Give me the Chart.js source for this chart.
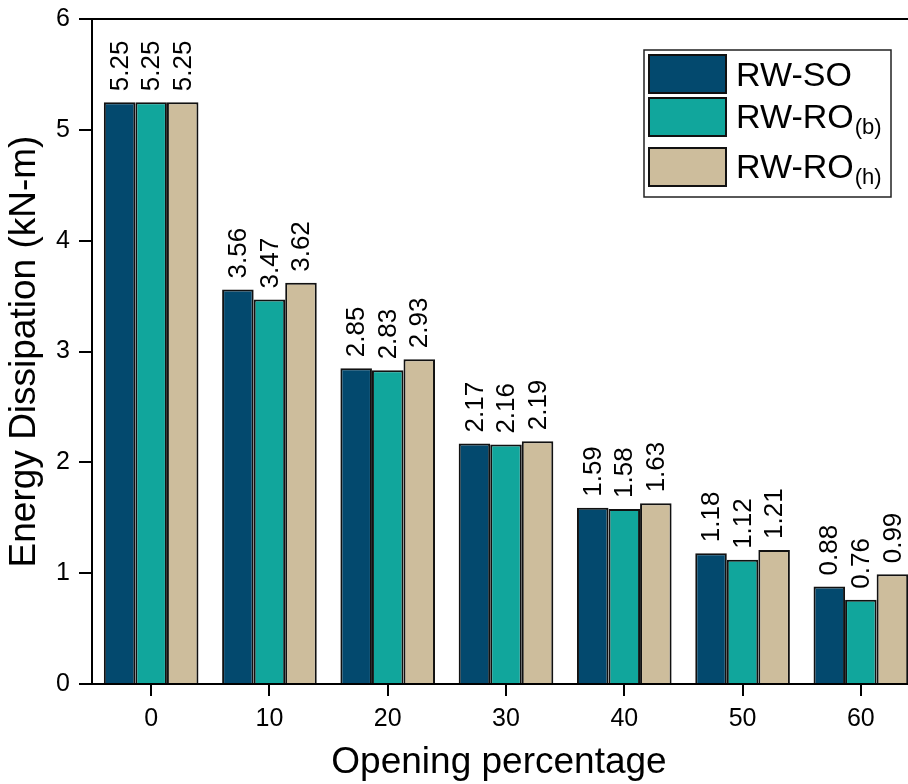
<!DOCTYPE html>
<html>
<head>
<meta charset="utf-8">
<script src="https://cdn.jsdelivr.net/npm/chart.js@4.4.0/dist/chart.umd.min.js"></script>
<style>
  html, body { margin: 0; padding: 0; background: #fff; overflow: hidden; }
  #wrap { width: 908px; height: 784px; overflow: hidden; position: relative; }
  canvas { display: block; }
</style>
</head>
<body>
<div id="wrap"><canvas id="c" width="930" height="784" style="width:930px;height:784px"></canvas></div>
<script>
// ---- data ----
const categories = ['0', '10', '20', '30', '40', '50', '60'];
const rwSO  = [5.25, 3.56, 2.85, 2.17, 1.59, 1.18, 0.88];
const rwROb = [5.25, 3.47, 2.83, 2.16, 1.58, 1.12, 0.76];
const rwROh = [5.25, 3.62, 2.93, 2.19, 1.63, 1.21, 0.99];
const seriesNames = ['RW-SO', 'RW-RO', 'RW-RO'];
const seriesSubs  = ['', '(b)', '(h)'];
const yTicks = [0, 1, 2, 3, 4, 5, 6];
const xTitle = 'Opening percentage';
const yTitle = 'Energy Dissipation (kN-m)';

const colors = ['#03496E', '#11A69C', '#CDBD9C'];
const FONT = "'Liberation Sans', Arial, Helvetica, sans-serif";

const labelPlugin = {
  id: 'labels',
  afterDatasetsDraw(chart) {
    const ctx = chart.ctx;
    ctx.save();
    ctx.fillStyle = '#000';
    ctx.font = '26px ' + FONT;
    ctx.textAlign = 'left';
    ctx.textBaseline = 'middle';
    chart.data.datasets.forEach((ds, di) => {
      const meta = chart.getDatasetMeta(di);
      meta.data.forEach((el, i) => {
        ctx.save();
        ctx.translate(el.x, el.y - 11);
        ctx.rotate(-Math.PI / 2);
        ctx.fillText(ds.data[i].toFixed(2), 0, 1);
        ctx.restore();
      });
    });
    ctx.restore();
  },
  afterDraw(chart) {
    const ctx = chart.ctx;
    const a = chart.chartArea;
    ctx.save();
    // frame top & right
    ctx.strokeStyle = '#000';
    ctx.lineWidth = 2;
    ctx.beginPath();
    ctx.moveTo(a.left, a.top);
    ctx.lineTo(a.right, a.top);
    ctx.lineTo(a.right, a.bottom);
    ctx.stroke();

    // axis titles
    ctx.fillStyle = '#000';
    ctx.font = '37px ' + FONT;
    ctx.textAlign = 'center';
    ctx.textBaseline = 'middle';
    ctx.fillText(xTitle, 499, 763);
    ctx.save();
    ctx.translate(25, (a.top + a.bottom) / 2);
    ctx.rotate(-Math.PI / 2);
    ctx.fillText(yTitle, 0, 0);
    ctx.restore();

    // legend
    ctx.lineWidth = 1.5;
    ctx.strokeStyle = '#222';
    ctx.strokeRect(644, 50, 247, 147);
    const sw = [[55, 93, 86], [98, 136, 128], [148, 186, 178]];
    chart.data.datasets.forEach((ds, i) => {
      const [t, b, base] = sw[i];
      ctx.fillStyle = ds.backgroundColor;
      ctx.fillRect(649, t, 77, b - t);
      ctx.strokeStyle = '#111';
      ctx.lineWidth = 2;
      ctx.strokeRect(649, t, 77, b - t);
      ctx.fillStyle = '#000';
      ctx.textAlign = 'left';
      ctx.textBaseline = 'alphabetic';
      ctx.font = '34px ' + FONT;
      ctx.fillText(seriesNames[i], 736, base);
      const w = ctx.measureText(seriesNames[i]).width;
      if (seriesSubs[i]) {
        ctx.font = '22px ' + FONT;
        ctx.fillText(seriesSubs[i], 736 + w + 1, base + 6);
      }
    });
    ctx.restore();
  }
};

new Chart(document.getElementById('c'), {
  type: 'bar',
  data: {
    labels: categories,
    datasets: [
      { label: seriesNames[0], data: rwSO,  backgroundColor: colors[0] },
      { label: seriesNames[1] + seriesSubs[1], data: rwROb, backgroundColor: colors[1] },
      { label: seriesNames[2] + seriesSubs[2], data: rwROh, backgroundColor: colors[2] }
    ].map(d => Object.assign(d, { borderColor: '#111', borderWidth: 2, borderSkipped: 'start',
                                  categoryPercentage: 0.8, barPercentage: 1.0 }))
  },
  options: {
    responsive: false,
    animation: false,
    devicePixelRatio: 1,
    layout: { padding: { top: 19, right: 10, left: 0, bottom: 0 } },
    plugins: { legend: { display: false }, tooltip: { enabled: false } },
    scales: {
      x: {
        grid: { offset: false, drawOnChartArea: false, drawTicks: true, tickLength: 12, color: '#000', lineWidth: 2 },
        border: { display: true, color: '#000', width: 2 },
        ticks: { color: '#000', font: { family: FONT, size: 25 }, padding: 8, maxRotation: 0 },
        afterFit(s) { s.height = 100; s.paddingLeft = 0; s.paddingRight = 0; }
      },
      y: {
        min: 0, max: 6,
        afterBuildTicks(s) { s.ticks = yTicks.map(v => ({ value: v })); },
        grid: { drawOnChartArea: false, drawTicks: true, tickLength: 13, color: '#000', lineWidth: 2 },
        border: { display: true, color: '#000', width: 2 },
        ticks: { color: '#000', font: { family: FONT, size: 25 }, padding: 9 },
        afterFit(s) { s.width = 92; s.paddingTop = 0; s.paddingBottom = 0; }
      }
    }
  },
  plugins: [labelPlugin]
});
</script>
</body>
</html>
